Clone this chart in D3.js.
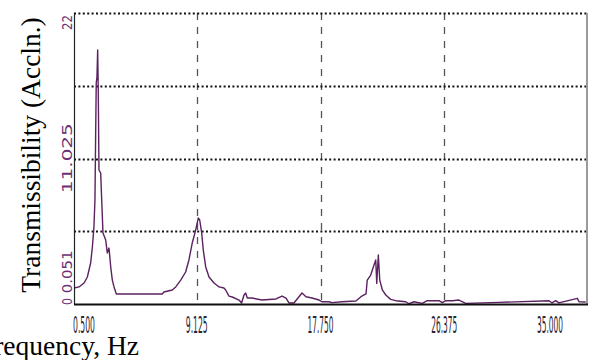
<!DOCTYPE html>
<html>
<head>
<meta charset="utf-8">
<script src="https://cdn.jsdelivr.net/npm/d3@7"></script>
<style>
  html, body { margin: 0; padding: 0; background: #fff; }
  svg { display: block; }
</style>
</head>
<body>
<svg id="chart" width="593" height="360"></svg>
<script>
// ---- data ----
const freq = [0.5,0.57,0.92,1.27,1.50,1.73,1.85,1.96,2.03,2.08,2.12,2.17,2.22,2.26,2.31,2.43,2.50,2.59,2.78,2.89,3.01,3.13,3.24,3.36,3.52,
  6.72,6.84,7.42,7.66,8.01,8.35,8.58,8.81,9.05,9.23,9.33,9.47,9.58,9.75,9.98,10.33,10.68,11.02,11.14,11.37,11.60,12.07,12.25,12.42,12.53,12.65,12.98,
  13.67,14.65,15.07,15.35,15.55,15.90,16.25,16.46,16.74,17.16,17.65,17.85,18.34,18.55,19.25,20.22,20.57,20.92,21.01,21.25,21.48,21.60,21.67,21.78,21.88,
  22.06,22.30,22.64,22.99,23.69,23.92,24.27,24.84,25.19,26.01,26.24,26.48,26.94,27.40,27.87,30.19,33.68,33.89,34.14,34.37,35.65,35.77,36.23];
const transmissibility = [0.91,1.21,1.29,1.59,2.04,3.10,4.31,5.82,7.86,12.93,16.71,17.16,19.20,16.18,10.13,9.90,7.86,5.37,4.84,3.86,4.23,2.80,1.81,1.29,0.76,
  0.76,0.91,1.06,1.29,1.81,2.42,3.33,4.61,5.59,6.50,6.35,5.37,4.08,2.80,2.04,1.59,1.29,1.21,1.06,0.60,0.53,0.30,0.08,0.68,0.83,0.45,0.45,
  0.30,0.38,0.60,0.45,0.08,0.08,0.55,0.83,0.55,0.45,0.30,0.17,0.17,0.10,0.17,0.23,0.55,0.76,1.81,2.19,2.95,3.33,1.56,3.71,1.81,
  1.06,0.68,0.35,0.25,0.17,0.02,0.17,0.05,0.25,0.25,0.10,0.25,0.25,0.30,0.05,0.12,0.25,0.08,0.25,0.08,0.43,0.17,0.15];
const xTicks = [0.5, 9.125, 17.75, 26.375, 35];
const xTickLabels = ["0.500", "9.125", "17.750", "26.375", "35.000"];
const yGrid = [5.5, 11, 16.5, 22];
const yLabelValues = [22, 11.025, 0.051, 0];
const yLabelTexts = ["22", "11.025", "0.051", "0"];
const xTitle = "Frequency, Hz";
const yTitle = "Transmissibility (Accln.)";

// ---- layout ----
const L = 74, R = 587, T = 13, B = 304;
const x = d3.scaleLinear().domain([0.5, 35]).range([73, 568]);
const y = d3.scaleLinear().domain([0, 22]).range([B, T]);

const svg = d3.select("#chart");

svg.append("defs").append("clipPath").attr("id", "clip")
  .append("rect").attr("x", L).attr("y", T - 2).attr("width", R - L).attr("height", B - T + 2);

// vertical dashed grid
svg.append("g").selectAll("line").data(xTicks.slice(1, 4)).join("line")
  .attr("x1", d => Math.round(x(d)) + 0.5).attr("x2", d => Math.round(x(d)) + 0.5)
  .attr("y1", T).attr("y2", B)
  .attr("stroke", "#555").attr("stroke-width", 1.3).attr("stroke-dasharray", "7,7");

// horizontal dotted grid
svg.append("g").selectAll("line").data(yGrid).join("line")
  .attr("x1", L).attr("x2", R)
  .attr("y1", d => Math.round(y(d)) + 0.5).attr("y2", d => Math.round(y(d)) + 0.5)
  .attr("stroke", "#111").attr("stroke-width", 2).attr("stroke-dasharray", "2,2.4");

// data line
const line = d3.line().x((d, i) => x(freq[i])).y(d => y(d));
svg.append("path").datum(transmissibility)
  .attr("clip-path", "url(#clip)")
  .attr("d", line)
  .attr("fill", "none").attr("stroke", "#5b2160").attr("stroke-width", 1.4)
  .attr("stroke-linejoin", "round");

// axes frame
svg.append("line").attr("x1", L + 0.5).attr("x2", L + 0.5).attr("y1", T).attr("y2", B)
  .attr("stroke", "#222").attr("stroke-width", 1.2);
svg.append("line").attr("x1", R).attr("x2", R).attr("y1", T).attr("y2", B + 1)
  .attr("stroke", "#9a9a9a").attr("stroke-width", 2);
svg.append("line").attr("x1", L).attr("x2", R + 1).attr("y1", B + 0.5).attr("y2", B + 0.5)
  .attr("stroke", "#111").attr("stroke-width", 2.2);

// x tick labels
svg.append("g").selectAll("text").data(xTicks).join("text")
  .attr("x", (d, i) => i === 0 ? x(d) : (i === xTicks.length - 1 ? x(d) - 5 : x(d)))
  .attr("y", 333)
  .attr("text-anchor", (d, i) => i === 0 ? "start" : (i === xTicks.length - 1 ? "end" : "middle"))
  .attr("font-family", "DejaVu Sans Condensed, DejaVu Sans, sans-serif")
  .attr("font-size", 23)
  .attr("textLength", (d, i) => xTickLabels[i].length === 5 ? 22 : 26)
  .attr("lengthAdjust", "spacingAndGlyphs")
  .attr("fill", "#2a2535")
  .text((d, i) => xTickLabels[i]);

// y tick labels (rotated)
const yAnchors = ["end", "middle", "start", "start"];
const yOffsets = [2, 0, -10, 1];
const yLens = [15, 70, 43, 7];
svg.append("g").selectAll("text").data(yLabelValues).join("text")
  .attr("transform", (d, i) => `translate(72,${y(d) + yOffsets[i]}) rotate(-90)`)
  .attr("text-anchor", (d, i) => yAnchors[i])
  .attr("font-family", "DejaVu Sans, sans-serif")
  .attr("font-size", 13.5)
  .attr("textLength", (d, i) => yLens[i])
  .attr("lengthAdjust", "spacingAndGlyphs")
  .attr("fill", "#6e3074")
  .text((d, i) => yLabelTexts[i]);

// titles
svg.append("text")
  .attr("transform", "translate(40,155) rotate(-90)")
  .attr("text-anchor", "middle")
  .attr("font-family", "Liberation Serif, Times New Roman, serif")
  .attr("font-size", 27.5)
  .attr("fill", "#000")
  .text(yTitle);

svg.append("text")
  .attr("x", 139).attr("y", 355)
  .attr("text-anchor", "end")
  .attr("font-family", "Liberation Serif, Times New Roman, serif")
  .attr("font-size", 27.5)
  .attr("fill", "#000")
  .text(xTitle);
</script>
</body>
</html>
